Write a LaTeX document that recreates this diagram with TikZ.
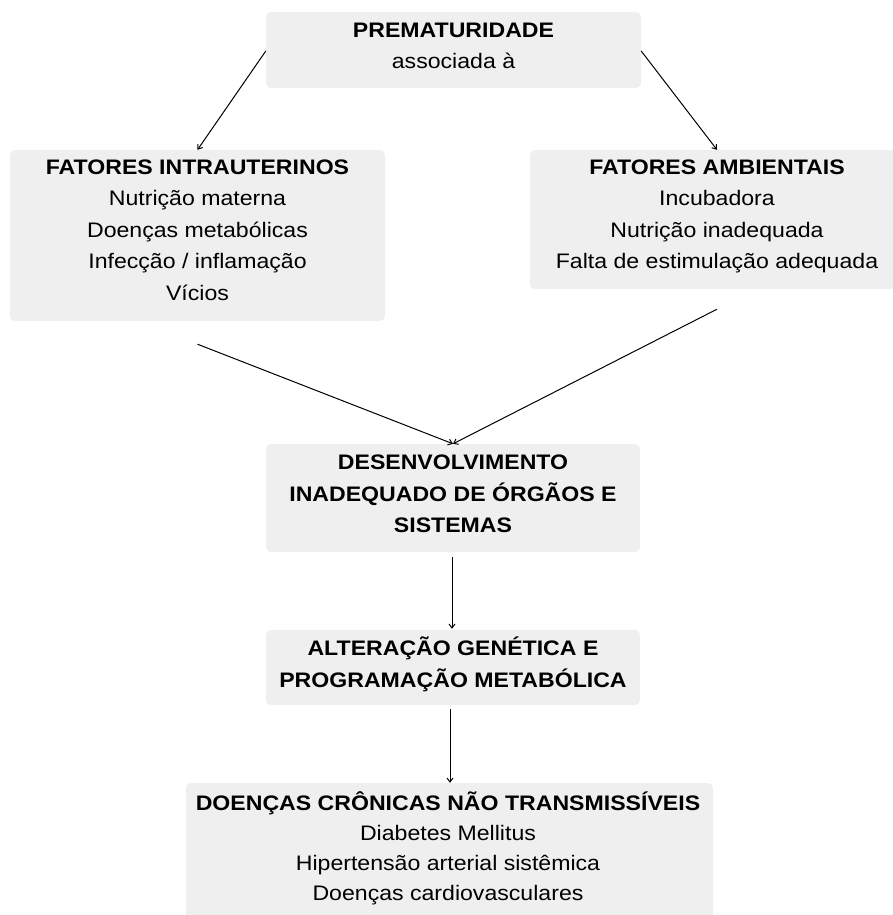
\documentclass[tikz,border=0pt]{standalone}
\usepackage{fontspec}
\setmainfont{Liberation Sans}[FakeStretch=1.1]
\usetikzlibrary{arrows.meta}
\definecolor{boxgray}{HTML}{EFEFEF}
\begin{document}
\begin{tikzpicture}[x=1pt,y=-1pt,
  box/.style={fill=boxgray, rounded corners=5pt, inner sep=0pt, draw=none},
  txt/.style={align=center, anchor=base, inner sep=0pt, font=\fontsize{21}{#1}\selectfont},
  txt/.default=31.5,
  arr/.style={-{Straight Barb[length=4pt,width=6pt]}, line width=1pt}]
\useasboundingbox (0,0) rectangle (893,915);
\clip (0,0) rectangle (893,915);
% boxes
\node[box, minimum width=375pt, minimum height=76pt]  (top) at (453.5,50) {};
\node[box, minimum width=375pt, minimum height=171pt] (lbox) at (197.5,235.5) {};
\node[box, minimum width=374pt, minimum height=139pt] (rbox) at (717,219.5) {};
\node[box, minimum width=374pt, minimum height=108pt] (mid) at (453,498) {};
\node[box, minimum width=374pt, minimum height=75pt]  (alt) at (453,667.5) {};
\node[box, minimum width=527pt, minimum height=142pt] (bot) at (449.5,854) {};
% texts (base anchor = baseline of last line)
\node[txt=31] (ttop) at (453.5,68.5) {\bfseries PREMATURIDADE\\ associada à};
\node[txt] (tl) at (197.5,300) {\bfseries FATORES INTRAUTERINOS\\ Nutrição materna\\ Doenças metabólicas\\ Infecção / inflamação\\ Vícios};
\node[txt] (tr) at (717,268.5) {\bfseries FATORES AMBIENTAIS\\ Incubadora\\ Nutrição inadequada\\ Falta de estimulação adequada};
\node[txt] (tm) at (453,532.5) {\bfseries DESENVOLVIMENTO\\ \bfseries INADEQUADO DE ÓRGÃOS E\\ \bfseries SISTEMAS};
\node[txt=32] (ta) at (453,687) {\bfseries ALTERAÇÃO GENÉTICA E\\ \bfseries PROGRAMAÇÃO METABÓLICA};
\node[txt=30] (tb) at (448,900) {\bfseries DOENÇAS CRÔNICAS NÃO TRANSMISSÍVEIS\\ Diabetes Mellitus\\ Hipertensão arterial sistêmica\\ Doenças cardiovasculares};
% connectors
\draw[arr] ([yshift=-1pt]top.west) -- (lbox.north);
\draw[arr] ([yshift=-1pt]top.east) -- (rbox.north);
\draw[arr] ([yshift=-23pt]lbox.south) -- (mid.north);
\draw[arr] ([yshift=-20pt]rbox.south) -- (mid.north);
\draw[arr] ([xshift=-1pt,yshift=-5pt]mid.south) -- ([xshift=-1pt,yshift=1pt]alt.north);
\draw[arr] ([xshift=-3pt,yshift=-4pt]alt.south) -- ([xshift=0.5pt]bot.north);
\end{tikzpicture}
\end{document}
